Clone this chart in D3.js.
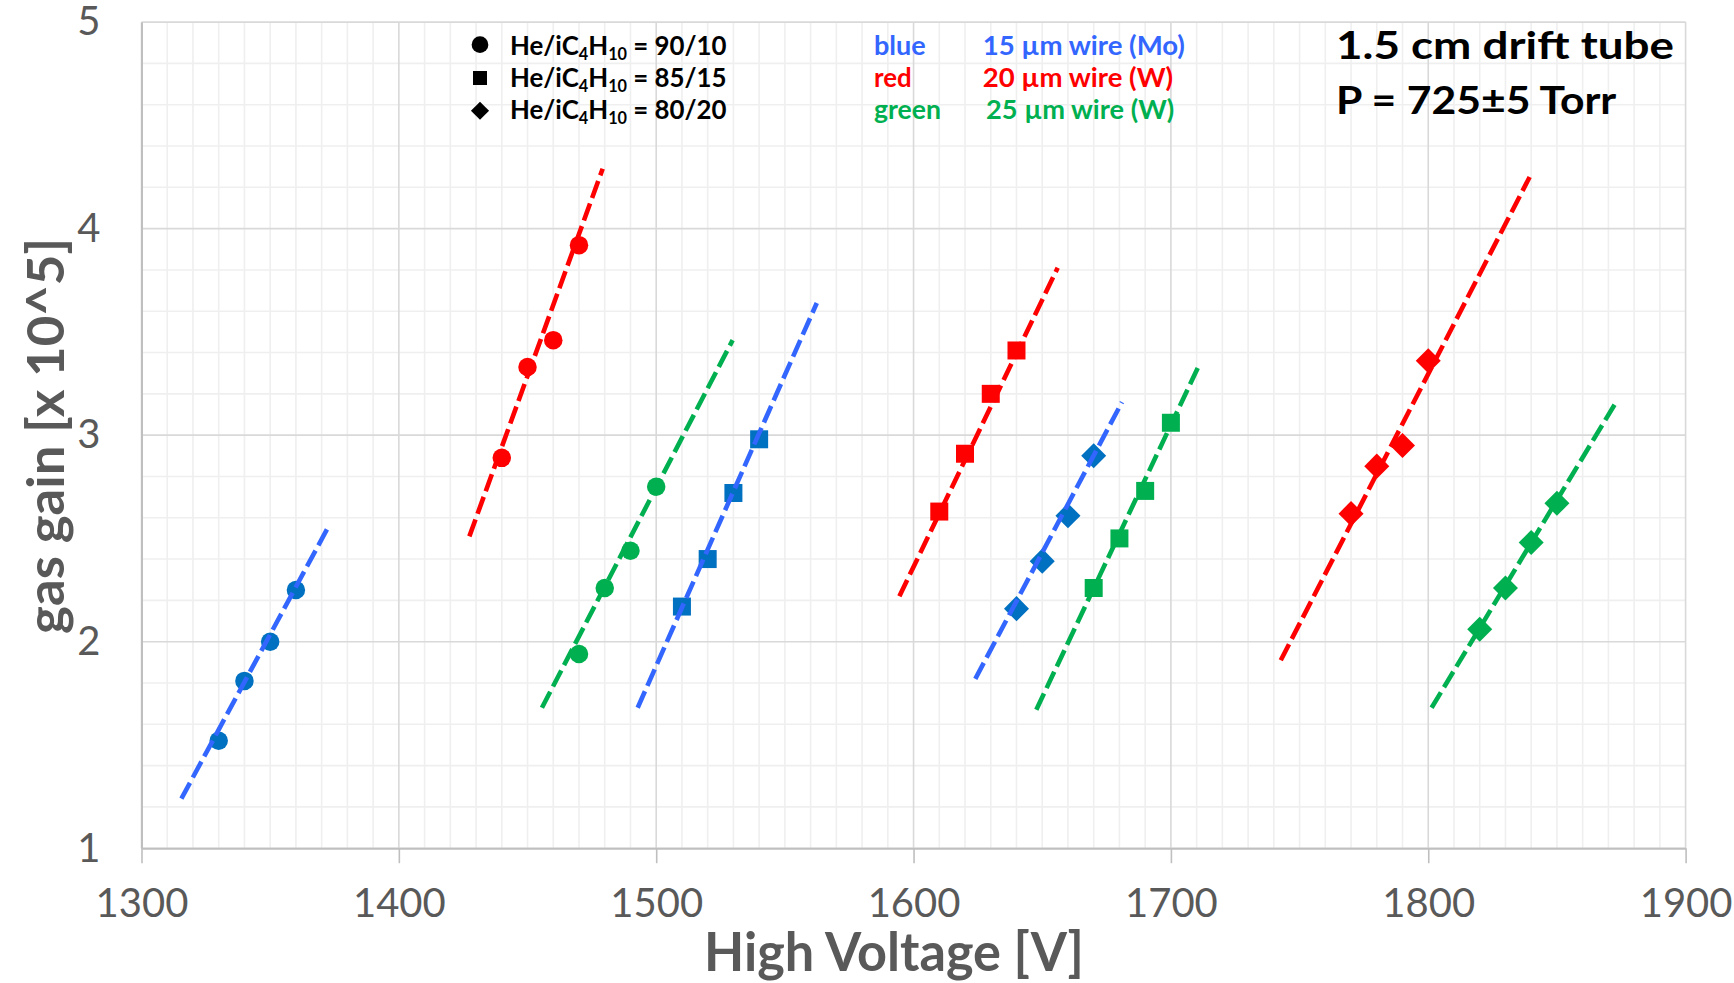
<!DOCTYPE html>
<html>
<head>
<meta charset="utf-8">
<script src="https://cdn.jsdelivr.net/npm/d3@7"></script>
<style>
  html, body { margin: 0; padding: 0; background: #ffffff; }
  svg { display: block; }
  text { font-family: Lato, "Open Sans", sans-serif; }
</style>
</head>
<body>
<svg id="chart" width="1734" height="983"></svg>
<script>
// ---- Data: gas gain (x 10^5) versus high voltage (V) ----
// Gas mixtures (marker shape) and wire sizes (colour)
const mixtureRatios = ["90/10", "85/15", "80/20"];
const colorWords = ["blue", "red", "green"];
const wireLabels = ["15 µm wire (Mo)", "20 µm wire (W)", "25 µm wire (W)"];

// He/iC4H10 = 90/10 (circles)
const hv_9010_15 = [1330, 1340, 1350, 1360];
const gain_9010_15 = [1.52, 1.81, 2.00, 2.25];
const hv_9010_20 = [1440, 1450, 1460, 1470];
const gain_9010_20 = [2.89, 3.33, 3.46, 3.92];
const hv_9010_25 = [1470, 1480, 1490, 1500];
const gain_9010_25 = [1.94, 2.26, 2.44, 2.75];

// He/iC4H10 = 85/15 (squares)
const hv_8515_15 = [1510, 1520, 1530, 1540];
const gain_8515_15 = [2.17, 2.40, 2.72, 2.98];
const hv_8515_20 = [1610, 1620, 1630, 1640];
const gain_8515_20 = [2.63, 2.91, 3.20, 3.41];
const hv_8515_25 = [1670, 1680, 1690, 1700];
const gain_8515_25 = [2.26, 2.50, 2.73, 3.06];

// He/iC4H10 = 80/20 (diamonds)
const hv_8020_15 = [1640, 1650, 1660, 1670];
const gain_8020_15 = [2.16, 2.39, 2.61, 2.90];
const hv_8020_20 = [1770, 1780, 1790, 1800];
const gain_8020_20 = [2.62, 2.85, 2.95, 3.36];
const hv_8020_25 = [1820, 1830, 1840, 1850];
const gain_8020_25 = [2.06, 2.26, 2.48, 2.67];

// Trendline end points [[hv, gain], [hv, gain]] for each data set
const trend_9010_15 = [[1315.5, 1.24], [1373.0, 2.565]];
const trend_9010_20 = [[1427.4, 2.51], [1479.2, 4.29]];
const trend_9010_25 = [[1455.6, 1.68], [1529.7, 3.46]];
const trend_8515_15 = [[1492.8, 1.68], [1562.4, 3.64]];
const trend_8515_20 = [[1594.5, 2.22], [1656.0, 3.81]];
const trend_8515_25 = [[1647.7, 1.67], [1711.0, 3.34]];
const trend_8020_15 = [[1624.0, 1.82], [1681.0, 3.16]];
const trend_8020_20 = [[1742.7, 1.91], [1839.4, 4.25]];
const trend_8020_25 = [[1801.3, 1.68], [1873.0, 3.16]];

// Axis ticks
const xTicks = [1300, 1400, 1500, 1600, 1700, 1800, 1900];
const yTicks = [1, 2, 3, 4, 5];

// ---- Styling ----
const markerColors = ["#0070C0", "#FF0000", "#00B050"];
const lineColors = ["#3366FF", "#FF0000", "#00B050"];
const textColors = ["#3366FF", "#FF0000", "#00B050"];
const shapes = ["circle", "square", "diamond"];

const series = [
  { hv: hv_9010_15, gain: gain_9010_15, trend: trend_9010_15, mix: 0, wire: 0 },
  { hv: hv_9010_20, gain: gain_9010_20, trend: trend_9010_20, mix: 0, wire: 1 },
  { hv: hv_9010_25, gain: gain_9010_25, trend: trend_9010_25, mix: 0, wire: 2 },
  { hv: hv_8515_15, gain: gain_8515_15, trend: trend_8515_15, mix: 1, wire: 0 },
  { hv: hv_8515_20, gain: gain_8515_20, trend: trend_8515_20, mix: 1, wire: 1 },
  { hv: hv_8515_25, gain: gain_8515_25, trend: trend_8515_25, mix: 1, wire: 2 },
  { hv: hv_8020_15, gain: gain_8020_15, trend: trend_8020_15, mix: 2, wire: 0 },
  { hv: hv_8020_20, gain: gain_8020_20, trend: trend_8020_20, mix: 2, wire: 1 },
  { hv: hv_8020_25, gain: gain_8020_25, trend: trend_8020_25, mix: 2, wire: 2 }
];

const W = 1734, H = 983;
const plot = { left: 141.5, right: 1685.6, top: 22.1, bottom: 848.2 };

const x = d3.scaleLinear().domain([1300, 1900]).range([plot.left, plot.right]);
const y = d3.scaleLinear().domain([1, 5]).range([plot.bottom, plot.top]);

function markerPath(shape, size) {
  if (shape === "circle") return d3.symbol(d3.symbolCircle, Math.PI * (size / 2) ** 2)();
  return d3.symbol(d3.symbolSquare, size * size)();
}

// Horizontally fit a text element to a given width, scaling about anchorX
function fitWidth(sel, anchorX, width) {
  const w = sel.node().getBBox().width;
  const k = width / w;
  sel.attr("transform", `translate(${anchorX},0) scale(${k},1) translate(${-anchorX},0)`);
}

function draw() {
  const svg = d3.select("#chart");
  svg.append("rect").attr("width", W).attr("height", H).attr("fill", "#ffffff");

  // Minor gridlines
  const minorX = d3.range(1300, 1901, 10).filter(v => v % 100 !== 0);
  const minorY = d3.range(10, 51, 2).map(v => v / 10).filter(v => v % 1 !== 0);
  const grid = svg.append("g");
  grid.selectAll(".mx").data(minorX).join("line")
    .attr("x1", d => x(d)).attr("x2", d => x(d))
    .attr("y1", plot.top).attr("y2", plot.bottom)
    .attr("stroke", "#EFEFEF").attr("stroke-width", 1.6);
  grid.selectAll(".my").data(minorY).join("line")
    .attr("y1", d => y(d)).attr("y2", d => y(d))
    .attr("x1", plot.left).attr("x2", plot.right)
    .attr("stroke", "#EFEFEF").attr("stroke-width", 1.6);
  // Major gridlines
  grid.selectAll(".Mx").data(xTicks).join("line")
    .attr("x1", d => x(d)).attr("x2", d => x(d))
    .attr("y1", plot.top).attr("y2", plot.bottom)
    .attr("stroke", "#D9D9D9").attr("stroke-width", 1.6);
  grid.selectAll(".My").data(yTicks).join("line")
    .attr("y1", d => y(d)).attr("y2", d => y(d))
    .attr("x1", plot.left).attr("x2", plot.right)
    .attr("stroke", "#D9D9D9").attr("stroke-width", 1.6);

  // Axes
  const xAxis = svg.append("g")
    .attr("transform", `translate(0,${plot.bottom})`)
    .call(d3.axisBottom(x).tickValues(xTicks).tickSize(15).tickSizeOuter(0).tickPadding(25).tickFormat(d3.format("d")));
  xAxis.select(".domain").attr("stroke", "#BFBFBF").attr("stroke-width", 2);
  xAxis.selectAll(".tick line").attr("stroke", "#BFBFBF").attr("stroke-width", 1.6);
  xAxis.selectAll(".tick text")
    .attr("fill", "#595959").style("font-family", "Lato, sans-serif").style("font-size", "40px");

  const yAxis = svg.append("g")
    .attr("transform", `translate(${plot.left},0)`)
    .call(d3.axisLeft(y).tickValues(yTicks).tickSize(0).tickSizeOuter(0).tickPadding(41).tickFormat(d3.format("d")));
  yAxis.select(".domain").attr("stroke", "#BFBFBF").attr("stroke-width", 2);
  yAxis.selectAll(".tick text")
    .attr("fill", "#595959").style("font-family", "Lato, sans-serif").style("font-size", "40px");

  // Axis titles
  const xt = svg.append("text")
    .attr("x", 894).attr("y", 971)
    .attr("text-anchor", "middle")
    .attr("fill", "#595959").attr("font-weight", 700).attr("font-size", 54)
    .text("High Voltage [V]");
  fitWidth(xt, 894, 380);

  const yt = svg.append("text")
    .attr("x", 0).attr("y", 0)
    .attr("text-anchor", "middle")
    .attr("fill", "#595959").attr("font-weight", 700).attr("font-size", 51)
    .text("gas gain [x 10^5]");
  const ytw = yt.node().getBBox().width;
  yt.attr("transform", `translate(64,436) rotate(-90) scale(${396 / ytw},1)`);

  // Data markers
  const marks = svg.append("g");
  series.forEach(s => {
    const pts = s.hv.map((v, i) => [v, s.gain[i]]);
    const shape = shapes[s.mix];
    const size = shape === "circle" ? 18.5 : (shape === "square" ? 18 : 17.7);
    marks.selectAll(null).data(pts).join("path")
      .attr("d", markerPath(shape, size))
      .attr("transform", d => `translate(${x(d[0])},${y(d[1])})` + (shape === "diamond" ? " rotate(45)" : ""))
      .attr("fill", markerColors[s.wire]);
  });

  // Dashed trendlines drawn over the markers
  const line = d3.line().x(d => x(d[0])).y(d => y(d[1]));
  svg.append("g").selectAll("path").data(series).join("path")
    .attr("d", d => line(d.trend))
    .attr("fill", "none")
    .attr("stroke", d => lineColors[d.wire])
    .attr("stroke-width", 4.6)
    .attr("stroke-dasharray", "18,6");

  // Legend: marker shapes for gas mixtures
  const legBase = [54.6, 87.0, 118.6];
  const legMarkY = [44.7, 78.0, 110.7];
  const legSizes = [16.7, 14, 12.8];
  const leg = svg.append("g");
  mixtureRatios.forEach((r, i) => {
    leg.append("path")
      .attr("d", markerPath(shapes[i], legSizes[i]))
      .attr("transform", `translate(480,${legMarkY[i]})` + (shapes[i] === "diamond" ? " rotate(45)" : ""))
      .attr("fill", "#000000");
    const t = leg.append("text")
      .attr("x", 510).attr("y", legBase[i])
      .attr("font-size", 27).attr("font-weight", 700).attr("fill", "#000000");
    t.append("tspan").text("He/iC");
    t.append("tspan").attr("font-size", 17).attr("dy", 5).text("4");
    t.append("tspan").attr("dy", -5).text("H");
    t.append("tspan").attr("font-size", 17).attr("dy", 5).text("10");
    t.append("tspan").attr("dy", -5).text(" = " + r);
    fitWidth(t, 510, 216.7);
  });

  // Legend: colours for wire sizes
  const wordWidths = [51.7, 37.7, 67];
  const wireX = [982.7, 982.7, 986];
  const wireWidths = [202.3, 190.6, 188.3];
  colorWords.forEach((c, i) => {
    const a = leg.append("text")
      .attr("x", 874).attr("y", legBase[i])
      .attr("font-size", 27).attr("font-weight", 700).attr("fill", textColors[i])
      .text(c);
    fitWidth(a, 874, wordWidths[i]);
    const b = leg.append("text")
      .attr("x", wireX[i]).attr("y", legBase[i])
      .attr("font-size", 27).attr("font-weight", 700).attr("fill", textColors[i])
      .text(wireLabels[i]);
    fitWidth(b, wireX[i], wireWidths[i]);
  });

  // Chamber description
  const t1 = svg.append("text")
    .attr("x", 1336).attr("y", 59.3)
    .attr("font-size", 38).attr("font-weight", 700).attr("fill", "#000000")
    .text("1.5 cm drift tube");
  fitWidth(t1, 1336, 338);
  const t2 = svg.append("text")
    .attr("x", 1336).attr("y", 114)
    .attr("font-size", 38).attr("font-weight", 700).attr("fill", "#000000")
    .text("P = 725±5 Torr");
  fitWidth(t2, 1336, 281.3);
}

if (document.fonts && document.fonts.ready) {
  document.fonts.ready.then(draw);
} else {
  draw();
}
</script>
</body>
</html>
